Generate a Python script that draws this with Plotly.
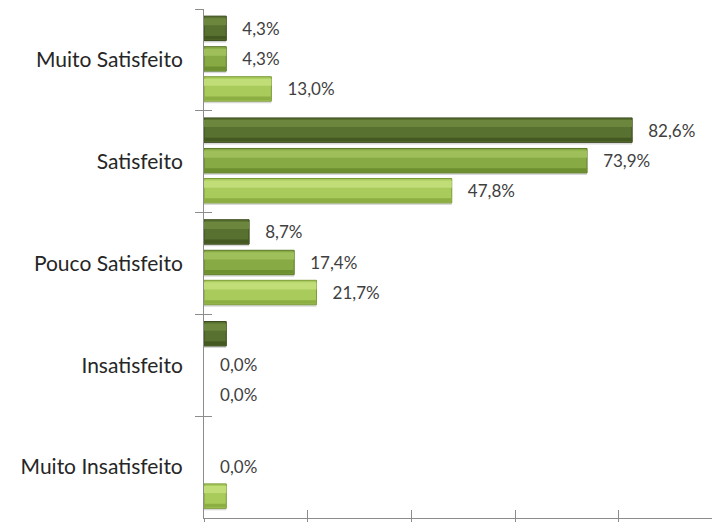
import plotly.graph_objects as go

categories = ["Muito Satisfeito", "Satisfeito", "Pouco Satisfeito", "Insatisfeito", "Muito Insatisfeito"]

serie_escura = [4.3, 82.6, 8.7, 4.3, 0.0]
serie_media = [4.3, 73.9, 17.4, 0.0, 0.0]
serie_clara = [13.0, 47.8, 21.7, 0.0, 4.3]

rotulos_escura = ["4,3%", "82,6%", "8,7%", "", ""]
rotulos_media = ["4,3%", "73,9%", "17,4%", "0,0%", "0,0%"]
rotulos_clara = ["13,0%", "47,8%", "21,7%", "0,0%", ""]

x_ticks = [0, 20, 40, 60, 80]

# (values, labels, body, highlight, lower edge, outline)
series = [
    (serie_escura, rotulos_escura, "#587030", "#6c873d", "#445822", "#3a4b1c"),
    (serie_media, rotulos_media, "#88aa45", "#9ebf5a", "#6d8f30", "#5c7a28"),
    (serie_clara, rotulos_clara, "#a8cb5c", "#c0dd78", "#8cae42", "#7c9c38"),
]

BAR_W = 0.24
offsets = [-0.43, -0.13, 0.165]
PAD = "\u00a0\u00a0\u00a0"

fig = go.Figure()
for (valores, rotulos, corpo, brilho, sombra, borda), off in zip(series, offsets):
    common = dict(y=categories, x=valores, orientation="h",
                  showlegend=False, hoverinfo="skip")
    # soft drop shadow under each bar
    fig.add_trace(go.Bar(**common, offset=off + 0.02, width=BAR_W,
                         marker=dict(color="rgba(0,0,0,0.15)", line=dict(width=0))))
    # bar body with value label
    fig.add_trace(go.Bar(
        **common, offset=off, width=BAR_W,
        marker=dict(color=corpo,
                    line=dict(color=borda, width=[1 if v > 0 else 0 for v in valores])),
        text=[PAD + r if r else "" for r in rotulos], textposition="outside",
        cliponaxis=False,
        textfont=dict(family="Lato", size=17, color="#404040"),
    ))
    # upper bevel highlight
    fig.add_trace(go.Bar(**common, offset=off + 0.02, width=0.07,
                         marker=dict(color=brilho, line=dict(width=0))))
    # lower bevel edge
    fig.add_trace(go.Bar(**common, offset=off + BAR_W - 0.045, width=0.035,
                         marker=dict(color=sombra, line=dict(width=0))))

eixo_cor = "#8c8c8c"
n = len(categories)
y_range = [n - 0.5, -0.5]
fig.update_layout(
    width=712, height=522,
    margin=dict(l=204, r=0, t=9, b=4),
    paper_bgcolor="white", plot_bgcolor="white",
    barmode="overlay",
    xaxis=dict(range=[0, 98], tickvals=x_ticks, showticklabels=False,
               ticks="outside", ticklen=4, tickcolor=eixo_cor,
               showline=True, linecolor=eixo_cor, linewidth=1,
               showgrid=False, zeroline=False, fixedrange=True),
    xaxis2=dict(range=[0, 98], tickvals=x_ticks, showticklabels=False,
                ticks="inside", ticklen=8, tickcolor=eixo_cor,
                overlaying="x", side="bottom", anchor="y2", showgrid=False,
                zeroline=False, showline=False),
    yaxis=dict(range=y_range, type="category", categoryarray=categories,
               tickson="boundaries",
               ticks="outside", ticklen=8, tickcolor=eixo_cor,
               showline=True, linecolor=eixo_cor, linewidth=1,
               showgrid=False, ticklabelstandoff=16,
               tickfont=dict(family="Lato", size=21, color="#262626")),
    # numeric twin of the category axis: inner half of the boundary ticks
    yaxis2=dict(range=y_range, type="linear",
                tickvals=[i - 0.5 for i in range(n + 1)],
                anchor="x2", ticks="inside", ticklen=8, tickcolor=eixo_cor,
                overlaying="y", side="left", showticklabels=False,
                showgrid=False, showline=False, zeroline=False),
)

# empty trace that activates the inner tick axes
fig.add_trace(go.Scatter(y=[0, n - 1], x=[0, 0], mode="none",
                         xaxis="x2", yaxis="y2", showlegend=False,
                         hoverinfo="skip"))

fig.write_html("out.html")
